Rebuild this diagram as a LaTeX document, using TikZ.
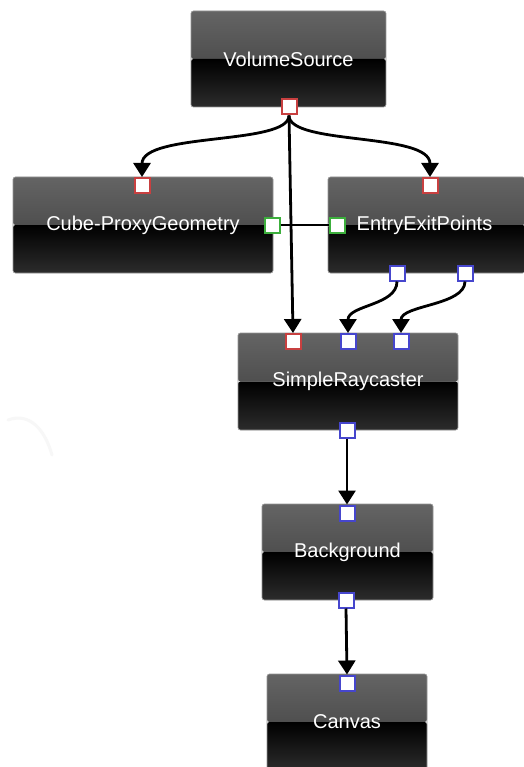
\documentclass[tikz,border=0pt]{standalone}
\usepackage{fontspec}
\setmainfont{Liberation Sans}
\usetikzlibrary{arrows.meta}
\definecolor{topA}{RGB}{100,100,100}
\definecolor{topB}{RGB}{58,58,58}
\definecolor{botA}{RGB}{0,0,0}
\definecolor{botB}{RGB}{44,44,44}
\definecolor{edgecol}{RGB}{150,150,150}
\definecolor{portred}{RGB}{200,64,64}
\definecolor{portblue}{RGB}{70,70,205}
\definecolor{portgreen}{RGB}{60,175,60}
\begin{document}
\begin{tikzpicture}[x=1pt,y=-1pt,
  module/.style={rectangle, rounded corners=2.5pt, draw=edgecol, line width=0.7pt,
    text=white, inner sep=0pt, font=\fontsize{20}{22}\selectfont,
    path picture={
      \shade[top color=topA, bottom color=topB]
        (path picture bounding box.north west) rectangle (path picture bounding box.east);
      \shade[top color=botA, bottom color=botB]
        (path picture bounding box.west) rectangle (path picture bounding box.south east);
    }},
  port/.style={rectangle, fill=white, line width=2pt, minimum size=15pt, inner sep=0pt},
  redport/.style={port, draw=portred},
  blueport/.style={port, draw=portblue},
  greenport/.style={port, draw=portgreen},
  conn/.style={line width=2.8pt, black, -{Triangle[width=17pt,length=14pt]}},
  link/.style={line width=2.2pt, black}
]
\useasboundingbox (0,0) rectangle (523,767);
\fill[white] (0,0) rectangle (523,767);

% faint artefact arc
\draw[gray!6, line width=3pt, line cap=round] (8,420) .. controls (30,412) and (45,430) .. (52,455);

% modules
\node[module, minimum width=195pt, minimum height=96pt] (vs) at (288.5,59) {\raisebox{-2pt}{VolumeSource}};
\node[module, minimum width=260pt, minimum height=96pt] (cube) at (143,225) {\raisebox{-2pt}{Cube-ProxyGeometry}};
\node[module, minimum width=197pt, minimum height=96pt] (eep) at (426.5,225) {\hspace*{-4pt}\raisebox{-2pt}{EntryExitPoints}};
\node[module, minimum width=220pt, minimum height=97pt] (sr) at (348,381.5) {\raisebox{-2pt}{SimpleRaycaster}};
\node[module, minimum width=171pt, minimum height=96pt] (bg) at (347.5,552) {\raisebox{-2pt}{Background}};
\node[module, minimum width=160pt, minimum height=96pt] (cv) at (347,722) {\raisebox{-2pt}{Canvas}};

% ports
\node[redport] (vsout) at (289,107) {};
\node[redport] (cubein) at (142,185.5) {};
\node[greenport] (cubeout) at (272,225) {};
\node[redport] (eepin) at (430,185.5) {};
\node[greenport] (eepg) at (337,225) {};
\node[blueport] (eepo1) at (397,273) {};
\node[blueport] (eepo2) at (465,273) {};
\node[redport] (srin1) at (293,341.5) {};
\node[blueport] (srin2) at (348,341.5) {};
\node[blueport] (srin3) at (401,341.5) {};
\node[blueport] (srout) at (347,430) {};
\node[blueport] (bgin) at (347,513) {};
\node[blueport] (bgout) at (346,600) {};
\node[blueport] (cvin) at (347,683) {};

% connectors
\draw[link] (cubeout.east) -- (eepg.west);
\draw[conn] (vsout.south) .. controls +(0,30) and +(0,-45) .. (cubein.north);
\draw[conn] (vsout.south) .. controls +(0,30) and +(0,-45) .. (eepin.north);
\draw[conn] (vsout.south) -- (srin1.north);
\draw[conn] (eepo1.south) .. controls +(0,24) and +(0,-28) .. (srin2.north);
\draw[conn] (eepo2.south) .. controls +(0,24) and +(0,-28) .. (srin3.north);
\draw[conn] (srout.south) -- (bgin.north);
\draw[conn] (bgout.south) -- (cvin.north);
\end{tikzpicture}
\end{document}
